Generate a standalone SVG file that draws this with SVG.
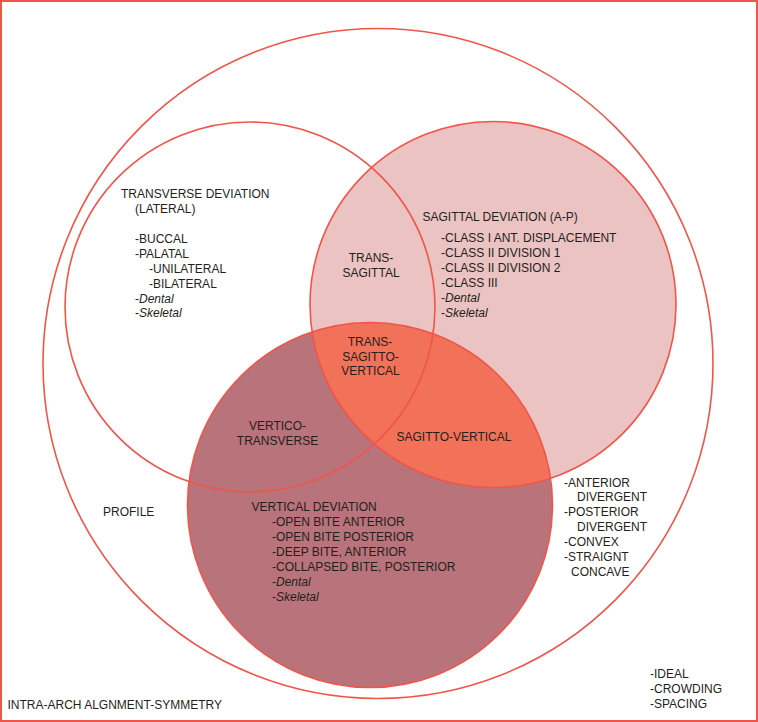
<svg xmlns="http://www.w3.org/2000/svg" width="758" height="722" viewBox="0 0 758 722">
<style>
.ln{fill:none;stroke:#f05549;stroke-width:1.6}
text{font-family:"Liberation Sans",Arial,Helvetica,sans-serif;font-size:12px;fill:#231f20}
.c{text-anchor:middle}
.i{font-style:italic}
</style>
<defs>
<clipPath id="clipB"><circle cx="493" cy="304.5" r="183"/></clipPath>
</defs>
<rect x="1" y="1" width="756" height="720" fill="#ffffff" stroke="#f05549" stroke-width="2"/>
<g id="profile-circle">
<circle cx="378" cy="363.5" r="335" fill="#ffffff"/>
</g>
<g id="transverse">
<circle cx="250" cy="307" r="185" fill="#ffffff"/>
</g>
<g id="sagittal">
<circle cx="493" cy="304.5" r="183" fill="#ecc3c3"/>
</g>
<g id="vertical">
<circle cx="370" cy="505" r="182.5" fill="#b9737a"/>
<circle cx="370" cy="505" r="182.5" fill="#f27259" clip-path="url(#clipB)"/>
</g>
<g id="outlines">
<circle class="ln" cx="378" cy="363.5" r="335"/>
<circle class="ln" cx="250" cy="307" r="185"/>
<circle class="ln" cx="493" cy="304.5" r="183"/>
<circle class="ln" cx="370" cy="505" r="182.5"/>
</g>
<g id="transverse-label">
<text x="121" y="198.3">TRANSVERSE DEVIATION</text>
<text x="135" y="213.3">(LATERAL)</text>
<text x="135" y="243.3">-BUCCAL</text>
<text x="135" y="258">-PALATAL</text>
<text x="149" y="272.8">-UNILATERAL</text>
<text x="149" y="287.8">-BILATERAL</text>
<text x="135" y="302.6">-<tspan class="i">Dental</tspan></text>
<text x="135" y="317.3">-<tspan class="i">Skeletal</tspan></text>
</g>
<g id="sagittal-label">
<text x="422.5" y="221">SAGITTAL DEVIATION (A-P)</text>
<text x="441" y="241.7">-CLASS I ANT. DISPLACEMENT</text>
<text x="441" y="256.7">-CLASS II DIVISION 1</text>
<text x="441" y="271.7">-CLASS II DIVISION 2</text>
<text x="441" y="286.7">-CLASS III</text>
<text x="441" y="301.7">-<tspan class="i">Dental</tspan></text>
<text x="441" y="316.7">-<tspan class="i">Skeletal</tspan></text>
</g>
<g id="trans-sagittal">
<text class="c" x="371" y="261.7">TRANS-</text>
<text class="c" x="371" y="276.7">SAGITTAL</text>
</g>
<g id="trans-sagitto-vertical">
<text class="c" x="370" y="346">TRANS-</text>
<text class="c" x="370.5" y="360.7">SAGITTO-</text>
<text class="c" x="370.5" y="375.3">VERTICAL</text>
</g>
<g id="vertico-transverse">
<text class="c" x="277.5" y="430">VERTICO-</text>
<text class="c" x="277.5" y="444.5">TRANSVERSE</text>
</g>
<g id="sagitto-vertical">
<text class="c" x="454" y="440.7">SAGITTO-VERTICAL</text>
</g>
<g id="vertical-label">
<text x="251.5" y="510.7">VERTICAL DEVIATION</text>
<text x="272" y="526">-OPEN BITE ANTERIOR</text>
<text x="272" y="540.8">-OPEN BITE POSTERIOR</text>
<text x="272" y="555.6">-DEEP BITE, ANTERIOR</text>
<text x="272" y="571">-COLLAPSED BITE, POSTERIOR</text>
<text x="272" y="586.3">-<tspan class="i">Dental</tspan></text>
<text x="272" y="601.3">-<tspan class="i">Skeletal</tspan></text>
</g>
<g id="profile-label">
<text x="103" y="516">PROFILE</text>
</g>
<g id="profile-list">
<text x="564" y="486.7">-ANTERIOR</text>
<text x="577" y="501.3">DIVERGENT</text>
<text x="564" y="516.3">-POSTERIOR</text>
<text x="577" y="531">DIVERGENT</text>
<text x="564" y="546">-CONVEX</text>
<text x="564" y="560.7">-STRAIGNT</text>
<text x="571" y="575.7">CONCAVE</text>
</g>
<g id="intra-arch-label">
<text x="7.5" y="709">INTRA-ARCH ALGNMENT-SYMMETRY</text>
</g>
<g id="intra-arch-list">
<text x="650" y="677.5">-IDEAL</text>
<text x="650" y="692.5">-CROWDING</text>
<text x="650" y="707.5">-SPACING</text>
</g>
</svg>
